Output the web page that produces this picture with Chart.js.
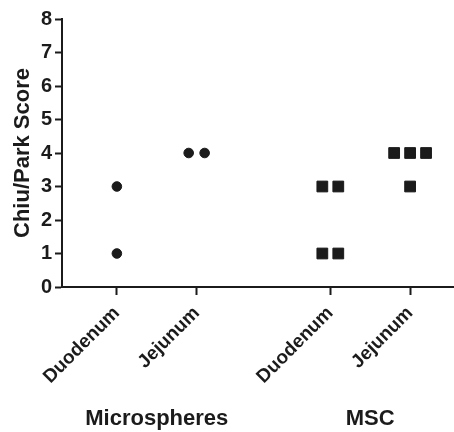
<!DOCTYPE html>
<html lang="en">
<head>
  <meta charset="UTF-8" />
  <title>Chiu/Park Score</title>
  <script src="https://cdn.jsdelivr.net/npm/chart.js"></script>
  <style>
    html, body { margin: 0; padding: 0; background: #fff; }
    #wrap { width: 454px; height: 432px; }
  </style>
</head>
<body>
  <div id="wrap"><canvas id="chart"></canvas></div>

  <script>
    // categories along the x axis and their group labels
    const categories = ['Duodenum', 'Jejunum', 'Duodenum', 'Jejunum'];
    const categoryPos = [1, 2, 3.675, 4.675];
    const groups = ['Microspheres', 'MSC'];

    // scores per animal
    const microDuodenum = [3, 1];
    const microJejunum = [4, 4];
    const mscDuodenum = [3, 3, 1, 1];
    const mscJejunum = [4, 4, 4, 3];

    // horizontal scatter offset of each point (x units)
    const microDuodenumJitter = [0, 0];
    const microJejunumJitter = [-0.1, 0.1];
    const mscDuodenumJitter = [-0.1, 0.1, -0.1, 0.1];
    const mscJejunumJitter = [-0.2, 0, 0.2, 0];

    const yTicks = [0, 1, 2, 3, 4, 5, 6, 7, 8];

    const ink = '#1b1b1b';
    const font = 'Arial, "Liberation Sans", sans-serif';

    function toPoints(values, jitter, idx) {
      return values.map((v, i) => ({ x: categoryPos[idx] + jitter[i], y: v }));
    }

    const groupLabels = {
      id: 'groupLabels',
      afterDraw(chart) {
        const ctx = chart.ctx;
        const x = chart.scales.x;
        ctx.save();
        ctx.fillStyle = ink;
        ctx.font = 'bold 22px ' + font;
        ctx.textAlign = 'center';
        ctx.textBaseline = 'alphabetic';
        groups.forEach((g, i) => {
          const mid = (categoryPos[i * 2] + categoryPos[i * 2 + 1]) / 2;
          ctx.fillText(g, x.getPixelForValue(mid), 425);
        });
        ctx.restore();
      }
    };

    new Chart(document.getElementById('chart'), {
      type: 'scatter',
      data: {
        datasets: [
          { label: 'Microspheres Duodenum', data: toPoints(microDuodenum, microDuodenumJitter, 0), pointStyle: 'circle', pointRadius: 4.8 },
          { label: 'Microspheres Jejunum', data: toPoints(microJejunum, microJejunumJitter, 1), pointStyle: 'circle', pointRadius: 4.8 },
          { label: 'MSC Duodenum', data: toPoints(mscDuodenum, mscDuodenumJitter, 2), pointStyle: 'rect', pointRadius: 7.6 },
          { label: 'MSC Jejunum', data: toPoints(mscJejunum, mscJejunumJitter, 3), pointStyle: 'rect', pointRadius: 7.6 }
        ].map(d => Object.assign(d, {
          backgroundColor: ink,
          borderColor: ink,
          borderWidth: 1,
          pointHoverRadius: d.pointRadius
        }))
      },
      options: {
        responsive: true,
        maintainAspectRatio: false,
        animation: false,
        layout: { autoPadding: false, padding: { top: 19, right: 0, left: 0, bottom: 0 } },
        plugins: {
          legend: { display: false },
          tooltip: { enabled: false }
        },
        scales: {
          x: {
            type: 'linear',
            min: 0.3125,
            max: 5.225,
            afterBuildTicks: scale => {
              scale.ticks = categoryPos.map(v => ({ value: v }));
            },
            afterFit: scale => {
              scale.height = 145;
              scale.paddingLeft = 0;
              scale.paddingRight = 0;
            },
            ticks: {
              autoSkip: false,
              minRotation: 45,
              maxRotation: 45,
              padding: 7,
              color: ink,
              font: { family: font, size: 19, weight: 'bold' },
              callback: (v, i) => categories[i]
            },
            grid: {
              display: true,
              drawOnChartArea: false,
              drawTicks: true,
              tickLength: 8,
              tickWidth: 2,
              color: ink
            },
            border: { display: true, width: 2, color: ink }
          },
          y: {
            min: 0,
            max: 8,
            afterBuildTicks: scale => {
              scale.ticks = yTicks.map(v => ({ value: v }));
            },
            afterFit: scale => { scale.width = 62; },
            ticks: {
              padding: 3,
              color: ink,
              font: { family: font, size: 20, weight: 'bold' }
            },
            grid: {
              display: true,
              drawOnChartArea: false,
              drawTicks: true,
              tickLength: 7,
              tickWidth: 2,
              color: ink
            },
            border: { display: true, width: 2, color: ink },
            title: {
              display: true,
              text: 'Chiu/Park Score',
              color: ink,
              padding: { top: 10, bottom: 0 },
              font: { family: font, size: 22, weight: 'bold' }
            }
          }
        }
      },
      plugins: [groupLabels]
    });
  </script>
</body>
</html>
